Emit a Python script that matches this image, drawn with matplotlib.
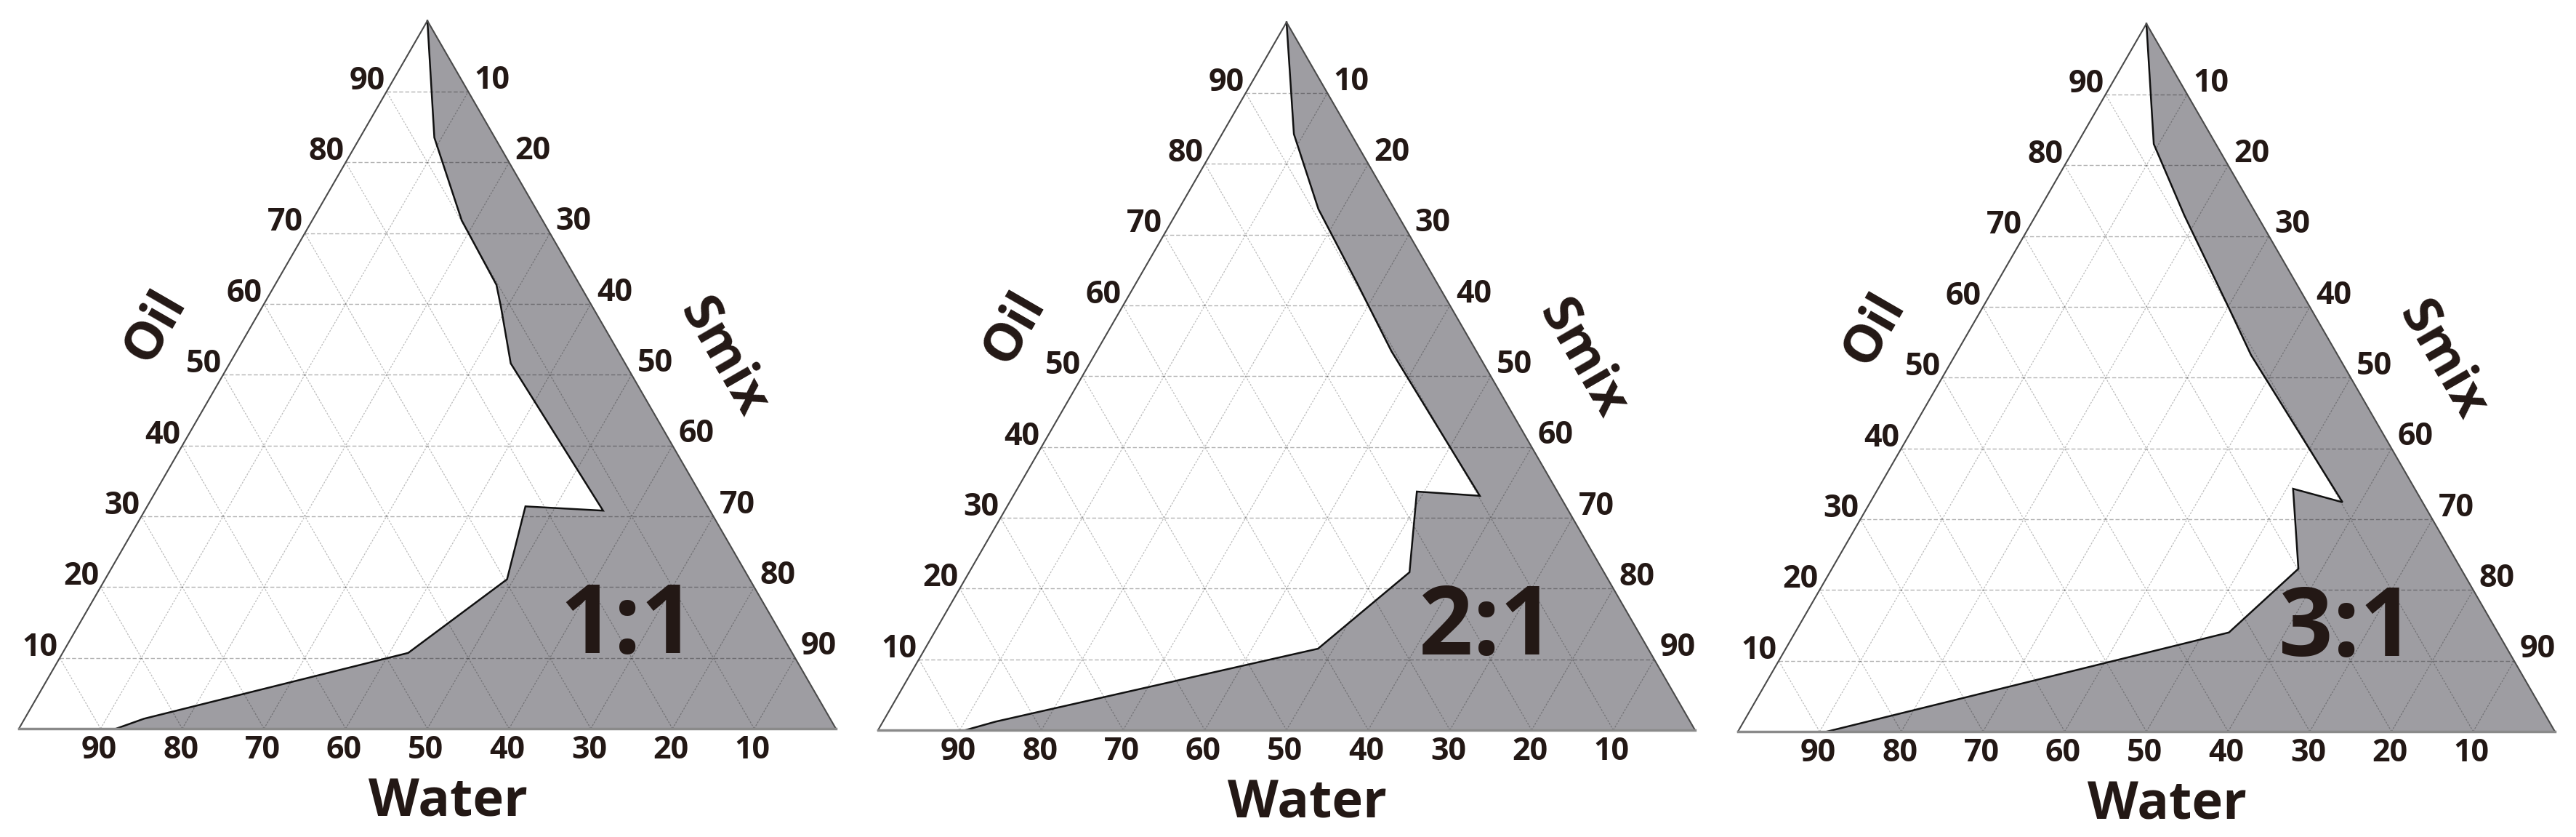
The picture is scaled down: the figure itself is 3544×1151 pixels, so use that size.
import numpy as np
import matplotlib.pyplot as plt

# pseudo-ternary phase diagrams: Oil / Smix / Water (percent)
H = np.sqrt(3) / 2

ratios = ['1:1', '2:1', '3:1']

# boundary of the shaded (microemulsion) region, from the Oil apex down to the Water axis
oil_11 = [100, 83.5, 71.8, 62.7, 59.6, 51.6, 30.8, 31.4, 21.1, 10.7, 1.4, 0]
smix_11 = [0, 9.1, 18.3, 27.1, 29.2, 34.4, 56.1, 46.3, 49.2, 42.3, 14.6, 11.9]

oil_21 = [100, 84.2, 73.6, 63.0, 53.5, 33.1, 33.7, 22.3, 11.5, 1.2, 0]
smix_21 = [0, 8.8, 17.1, 27.2, 36.1, 57.1, 49.1, 53.9, 48.1, 13.8, 10.7]

oil_31 = [100, 83.0, 72.9, 59.7, 53.2, 32.4, 34.3, 23.0, 14.0, 0]
smix_31 = [0, 9.4, 18.2, 30.3, 36.2, 57.8, 50.8, 57.1, 53.1, 10.9]

oils = [oil_11, oil_21, oil_31]
smixes = [smix_11, smix_21, smix_31]

ticks = [10, 20, 30, 40, 50, 60, 70, 80, 90]


def to_xy(oil, smix):
    oil = np.asarray(oil, float)
    smix = np.asarray(smix, float)
    return smix + oil / 2, oil * H


W, HP = 3544, 1151
fig = plt.figure(figsize=(W / 100, HP / 100), dpi=100)
plt.rcParams['font.family'] = ['Open Sans', 'DejaVu Sans']

txt = '#231815'
fill_c = '#9e9da2'

# panel placement in pixels (left vertex x, base y from top), px per percent
panel_left = [26, 1208, 2391]
panel_base = [1002, 1004, 1006]
u = 11.24

for i in range(3):
    L, B = panel_left[i], panel_base[i]
    ax = fig.add_axes([0, 0, 1, 1])
    ax.set_xlim(-L / u, (W - L) / u)
    ax.set_ylim(-(HP - B) / u, B / u)
    ax.axis('off')
    ax.patch.set_alpha(0)

    # shaded region
    bx, by = to_xy(oils[i], smixes[i])
    px, py = to_xy(list(oils[i]) + [0], list(smixes[i]) + [100])
    ax.fill(px, py, color=fill_c, lw=0, zorder=1)
    ax.plot(bx, by, color='#111111', lw=1.8, zorder=3, solid_joinstyle='miter')

    # grid
    for k in ticks:
        x, y = to_xy([k, k], [0, 100 - k])
        ax.plot(x, y, color='k', alpha=0.3, lw=1.0, ls=(0, (4, 2)), zorder=2)
        x, y = to_xy([0, 100 - k], [k, k])
        ax.plot(x, y, color='k', alpha=0.27, lw=0.9, ls=(0, (2, 1.5)), zorder=2)
        x, y = to_xy([0, 100 - k], [100 - k, 0])
        ax.plot(x, y, color='k', alpha=0.27, lw=0.9, ls=(0, (2, 1.5)), zorder=2)

    # triangle edges
    ex, ey = to_xy([0, 100, 0], [0, 0, 100])
    ax.plot(ex, ey, color='#4a4a4a', lw=1.5, zorder=4)
    ax.plot([0, 100], [0, 0], color='#8a8a8a', lw=2.5, zorder=4)

    # tick labels
    for k in ticks:
        x, y = to_xy(k, 0)
        ax.text(x - 2.4, y + 1.3, str(k), ha='center', va='center',
                fontsize=31, fontweight='bold', color=txt)
        x, y = to_xy(100 - k, k)
        ax.text(x + 2.9, y + 1.4, str(k), ha='center', va='center',
                fontsize=31, fontweight='bold', color=txt)
        x, y = to_xy(0, 100 - k)
        ax.text(x - 0.2, y - 2.6, str(k), ha='center', va='center',
                fontsize=31, fontweight='bold', color=txt)

    # axis titles
    ax.text(16.7, 49.3, 'Oil', rotation=60, ha='center', va='center',
            fontsize=52, fontweight='bold', color=txt)
    ax.text(86.2, 45.4, 'Smix', rotation=-60, ha='center', va='center',
            fontsize=52, fontweight='bold', color=txt)
    ax.text(52.5, -9.0, 'Water', ha='center', va='center',
            fontsize=52, fontweight='bold', color=txt)

    ax.text(74.5, 12.3, ratios[i], ha='center', va='center',
            fontsize=94, fontweight='bold', color=txt, zorder=5)

fig.savefig('out.png', dpi=100)
